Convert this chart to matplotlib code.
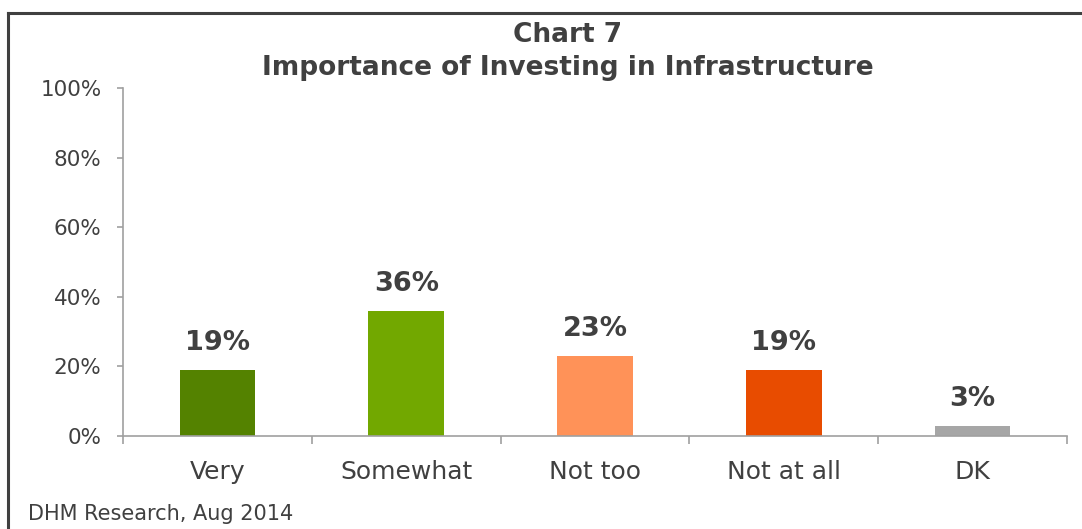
import matplotlib.pyplot as plt
from matplotlib.lines import Line2D

# data
categories = ['Very', 'Somewhat', 'Not too', 'Not at all', 'DK']
values = [19, 36, 23, 19, 3]
colors = ['#548200', '#72A800', '#FF9258', '#E84C00', '#A6A6A6']
yticks = [0, 20, 40, 60, 80, 100]

text_col = '#404040'
axis_col = '#A0A0A0'

fig = plt.figure(figsize=(10.82, 5.29), dpi=100)
ax = fig.add_axes([123 / 1082, 1 - 436 / 529, (1067 - 123) / 1082, (436 - 88) / 529])

x = range(len(categories))
ax.bar(x, values, width=0.4, color=colors, zorder=2)

# value labels above bars
for i, v in enumerate(values):
    ax.annotate(f'{v}%', (i, v), xytext=(0, 10), textcoords='offset points',
                ha='center', va='bottom', fontsize=19.5, fontweight='bold', color=text_col)

ax.set_xlim(-0.5, len(categories) - 0.5)
ax.set_ylim(0, 100)
ax.set_yticks(yticks)
ax.set_yticklabels([f'{t}%' for t in yticks])

# labels at bar centres, tick marks at category boundaries
ax.set_xticks(list(x))
ax.set_xticklabels(categories)
ax.set_xticks([i - 0.5 for i in range(len(categories) + 1)], minor=True)
ax.tick_params(axis='x', which='major', length=0, pad=17.5, labelsize=18, labelcolor=text_col)
ax.tick_params(axis='x', which='minor', length=6, width=1.2, color=axis_col, direction='out')
ax.tick_params(axis='y', length=4.5, width=1.2, color=axis_col, pad=11, labelsize=15.5, labelcolor=text_col)

for s in ['top', 'right']:
    ax.spines[s].set_visible(False)
for s in ['left', 'bottom']:
    ax.spines[s].set_color(axis_col)
    ax.spines[s].set_linewidth(1.2)

# title
fig.text(0.525, 1 - 35 / 529, 'Chart 7', ha='center', va='center',
         fontsize=19, fontweight='bold', color=text_col)
fig.text(0.525, 1 - 68 / 529, 'Importance of Investing in Infrastructure', ha='center', va='center',
         fontsize=19, fontweight='bold', color=text_col)

# source
fig.text(28 / 1082, 1 - 520 / 529, 'DHM Research, Aug 2014', ha='left', va='baseline',
         fontsize=15, color=text_col)

# outer frame (top and left edges)
fig.add_artist(Line2D([8 / 1082, 1.0], [1 - 13 / 529, 1 - 13 / 529], color='#404040', linewidth=2.2,
                      transform=fig.transFigure))
fig.add_artist(Line2D([8 / 1082, 8 / 1082], [1 - 13 / 529, 0], color='#404040', linewidth=2.2,
                      transform=fig.transFigure))

fig.savefig('out.png', dpi=100)
